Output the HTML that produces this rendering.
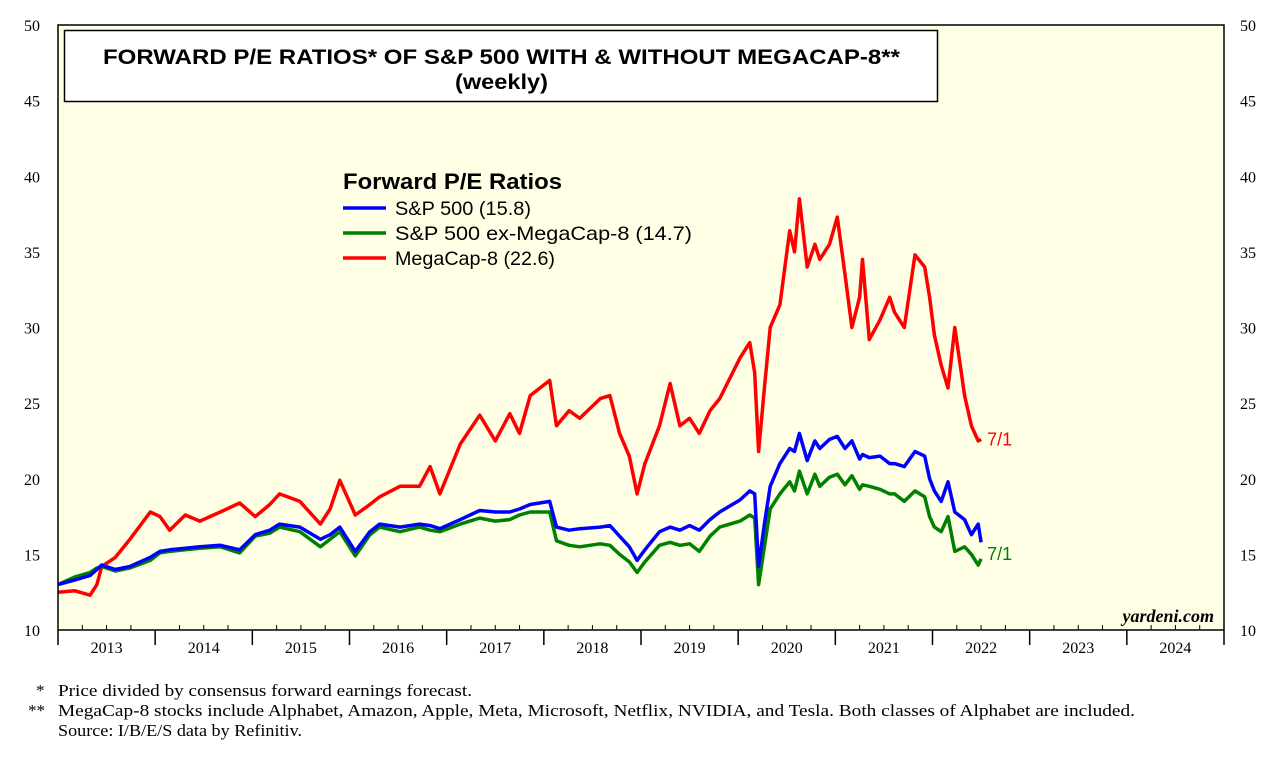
<!DOCTYPE html>
<html><head><meta charset="utf-8"><style>
html,body{margin:0;padding:0;background:#fff;}
svg{display:block;}
</style></head><body>
<svg id="chart" width="1283" height="757" viewBox="0 0 1283 757" xmlns="http://www.w3.org/2000/svg">
<rect x="58" y="25" width="1166" height="605" fill="#FFFFE6"/>
<g id="grid"></g>
<g id="series"></g>
<rect x="64.5" y="30.5" width="873" height="71" fill="#fff" stroke="#000" stroke-width="1.5"/>
<text x="103" y="64" textLength="797" lengthAdjust="spacingAndGlyphs" font-family="Liberation Sans, sans-serif" font-weight="bold" font-size="21">FORWARD P/E RATIOS* OF S&amp;P 500 WITH &amp; WITHOUT MEGACAP-8**</text>
<text x="455" y="89" textLength="93" lengthAdjust="spacingAndGlyphs" font-family="Liberation Sans, sans-serif" font-weight="bold" font-size="21">(weekly)</text>
<g font-family="Liberation Sans, sans-serif">
<text x="343" y="189" textLength="219" lengthAdjust="spacingAndGlyphs" font-weight="bold" font-size="22">Forward P/E Ratios</text>
<line x1="343" y1="208" x2="386" y2="208" stroke="#0000FF" stroke-width="3.5"/>
<text x="395" y="215" textLength="136" lengthAdjust="spacingAndGlyphs" font-size="19.5">S&amp;P 500 (15.8)</text>
<line x1="343" y1="233" x2="386" y2="233" stroke="#008000" stroke-width="3.5"/>
<text x="395" y="240" textLength="297" lengthAdjust="spacingAndGlyphs" font-size="19.5">S&amp;P 500 ex-MegaCap-8 (14.7)</text>
<line x1="343" y1="258" x2="386" y2="258" stroke="#FF0000" stroke-width="3.5"/>
<text x="395" y="265" textLength="160" lengthAdjust="spacingAndGlyphs" font-size="19.5">MegaCap-8 (22.6)</text>
</g>
<text x="1214" y="622" text-anchor="end" font-family="Liberation Serif, serif" font-style="italic" font-weight="bold" font-size="18">yardeni.com</text>
<rect x="58" y="25" width="1166" height="605" fill="none" stroke="#000" stroke-width="1.5"/>
<g font-family="Liberation Serif, serif" font-size="17">
<text x="36" y="696">*</text>
<text x="58" y="696" textLength="414" lengthAdjust="spacingAndGlyphs">Price divided by consensus forward earnings forecast.</text>
<text x="28" y="716">**</text>
<text x="58" y="716" textLength="1077" lengthAdjust="spacingAndGlyphs">MegaCap-8 stocks include Alphabet, Amazon, Apple, Meta, Microsoft, Netflix, NVIDIA, and Tesla. Both classes of Alphabet are included.</text>
<text x="58" y="736" textLength="244" lengthAdjust="spacingAndGlyphs">Source: I/B/E/S data by Refinitiv.</text>
</g>
</svg>
<script>
const dates=[2013.00,2013.17,2013.33,2013.40,2013.45,2013.59,2013.74,2013.95,
2014.05,2014.15,2014.31,2014.46,2014.67,2014.87,
2015.03,2015.18,2015.28,2015.49,2015.70,2015.80,2015.90,
2016.06,2016.21,2016.31,2016.52,2016.72,2016.83,2016.93,
2017.14,2017.34,2017.50,2017.65,2017.75,2017.86,
2018.06,2018.13,2018.26,2018.37,2018.58,2018.68,2018.78,2018.88,2018.96,
2019.04,2019.19,2019.30,2019.40,2019.50,2019.60,2019.71,2019.81,
2020.02,2020.12,2020.17,2020.21,2020.27,2020.33,2020.43,2020.53,2020.58,2020.63,2020.71,2020.79,2020.84,2020.94,
2021.02,2021.10,2021.17,2021.25,2021.28,2021.35,2021.46,2021.56,2021.61,2021.71,2021.82,2021.92,2021.97,
2022.02,2022.09,2022.16,2022.23,2022.33,2022.40,2022.47,2022.50];
const megacap=[12.5,12.6,12.3,13.0,14.2,14.8,16.0,17.8,
17.5,16.6,17.6,17.2,17.8,18.4,
17.5,18.3,19.0,18.5,17.0,18.0,19.9,
17.6,18.3,18.8,19.5,19.5,20.8,19.0,
22.3,24.2,22.5,24.3,23.0,25.5,
26.5,23.5,24.5,24.0,25.3,25.5,23.0,21.5,19.0,
21.0,23.5,26.3,23.5,24.0,23.0,24.5,25.3,
28.0,29.0,27.0,21.8,26.0,30.0,31.5,36.4,35.0,38.5,34.0,35.5,34.5,35.5,
37.3,33.5,30.0,32.0,34.5,29.2,30.5,32.0,31.0,30.0,34.8,34.0,32.0,
29.5,27.5,26.0,30.0,25.5,23.5,22.5,22.6];
const sp500=[13.0,13.3,13.6,14.0,14.3,14.0,14.2,14.8,
15.2,15.3,15.4,15.5,15.6,15.3,
16.3,16.6,17.0,16.8,16.0,16.3,16.8,
15.2,16.5,17.0,16.8,17.0,16.9,16.7,
17.3,17.9,17.8,17.8,18.0,18.3,
18.5,16.8,16.6,16.7,16.8,16.9,16.2,15.5,14.6,
15.3,16.5,16.8,16.6,16.9,16.6,17.3,17.8,
18.6,19.2,19.0,14.2,17.0,19.5,21.0,22.0,21.8,23.0,21.2,22.5,22.0,22.6,
22.8,22.0,22.5,21.3,21.6,21.4,21.5,21.0,21.0,20.8,21.8,21.5,20.0,
19.2,18.5,19.8,17.8,17.3,16.3,17.0,15.8];
const exMegacap=[13.0,13.5,13.8,14.1,14.2,13.9,14.1,14.6,
15.1,15.2,15.3,15.4,15.5,15.1,
16.2,16.4,16.8,16.5,15.5,16.0,16.5,
14.9,16.3,16.8,16.5,16.8,16.6,16.5,
17.0,17.4,17.2,17.3,17.6,17.8,
17.8,15.9,15.6,15.5,15.7,15.6,15.0,14.5,13.8,
14.5,15.6,15.8,15.6,15.7,15.2,16.2,16.8,
17.2,17.6,17.4,13.0,15.5,18.0,19.0,19.8,19.2,20.5,19.0,20.3,19.5,20.1,
20.3,19.6,20.2,19.3,19.6,19.5,19.3,19.0,19.0,18.5,19.2,18.8,17.5,
16.8,16.5,17.5,15.2,15.5,15.0,14.3,14.7];
const yTicks=[10,15,20,25,30,35,40,45,50];
const xYears=[2013,2014,2015,2016,2017,2018,2019,2020,2021,2022,2023,2024];

const NS='http://www.w3.org/2000/svg';
const X0=58,X1=1224,Y0=630,Y1=25;
const xs=t=>X0+(t-2013)/(2025-2013)*(X1-X0);
const ys=v=>Y0-(v-10)/(50-10)*(Y0-Y1);
function mk(tag,attrs,parent,text){const e=document.createElementNS(NS,tag);for(const k in attrs)e.setAttribute(k,attrs[k]);if(text!==undefined)e.textContent=text;parent.appendChild(e);return e;}
const svg=document.getElementById('chart');
yTicks.forEach(v=>{
  const y=ys(v);
  const l=mk('text',{x:40,y:y+6,'text-anchor':'end','font-family':'Liberation Serif, serif','font-size':16},svg,String(v));
  
  
  const r=mk('text',{x:1240,y:y+6,'text-anchor':'start','font-family':'Liberation Serif, serif','font-size':16},svg,String(v));
  
  
});
for(let i=0;i<=xYears.length;i++){
  const x=xs(2013+i);
  const t=mk('line',{x1:x,y1:Y0,x2:x,y2:645,stroke:'#000','stroke-width':1.5},svg);
  
  
  if(i<xYears.length){
    for(let q=1;q<4;q++){
      const m=mk('line',{x1:xs(2013+i+q/4),y1:Y0,x2:xs(2013+i+q/4),y2:Y0-5,stroke:'#000','stroke-width':1},svg);
      
      
    }
  }
}
xYears.forEach(yr=>{
  const l=mk('text',{x:xs(yr+0.5),y:653,'text-anchor':'middle','font-family':'Liberation Serif, serif','font-size':16},svg,String(yr));
  
  
});
const sg=document.getElementById('series');
function line(vals,color,name){
  const d=vals.map((v,i)=>(i?'L':'M')+xs(dates[i]).toFixed(1)+','+ys(v).toFixed(1)).join(' ');
  const p=mk('path',{d:d,fill:'none',stroke:color,'stroke-width':3.5,'stroke-linejoin':'round'},sg);
  
  
}
line(megacap,'#FF0000','megacap-8-line');
line(exMegacap,'#008000','sp500-ex-megacap-line');
line(sp500,'#0000FF','sp500-line');
const n=dates.length-1;
const lr=mk('text',{x:xs(dates[n])+6,y:ys(megacap[n])+6,'font-family':'Liberation Sans, sans-serif','font-size':18,fill:'#FF0000'},svg,'7/1');


const lg=mk('text',{x:xs(dates[n])+6,y:ys(exMegacap[n])+1,'font-family':'Liberation Sans, sans-serif','font-size':18,fill:'#008000'},svg,'7/1');


</script>
</body></html>
